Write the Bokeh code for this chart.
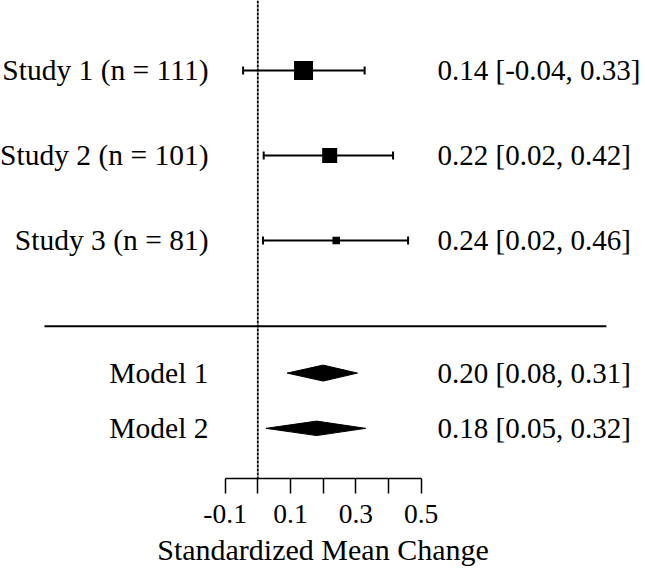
from math import pi
from bokeh.plotting import figure
from bokeh.models import Range1d, LinearAxis, FixedTicker, Span, ColumnDataSource
from bokeh.core.properties import value
from bokeh.embed import file_html
from bokeh.resources import INLINE

# ---------------- data ----------------
study_labels = ["Study 1 (n = 111)", "Study 2 (n = 101)", "Study 3 (n = 81)"]
study_est = [0.14, 0.22, 0.24]
study_lo = [-0.045, 0.018, 0.016]
study_hi = [0.327, 0.414, 0.46]
study_text = ["0.14 [-0.04, 0.33]", "0.22 [0.02, 0.42]", "0.24 [0.02, 0.46]"]

model_labels = ["Model 1", "Model 2"]
model_est = [0.20, 0.18]
model_lo = [0.09, 0.025]
model_hi = [0.305, 0.33]
model_text = ["0.20 [0.08, 0.31]", "0.18 [0.05, 0.32]"]

tick_values = [-0.1, 0.0, 0.1, 0.2, 0.3, 0.4, 0.5]
tick_labels = ["-0.1", "", "0.1", "", "0.3", "", "0.5"]
x_title = "Standardized Mean Change"

# ---------------- layout / style ----------------
W, H = 645, 570
FONT = "Liberation Serif"
study_rows = [0, 1, 2]
model_rows = [3.56, 4.21]
sep_row = 3.008
square_sizes = [19, 15, 7.5]
diamond_half = [0.094, 0.085]
X_RANGE = (-0.7876, 1.1867)
Y_RANGE = (4.80, -0.8235)
LEFT_TEXT_X = -0.151
RIGHT_TEXT_X = 0.55
SEP_X = (-0.653, 1.067)

p = figure(width=W, height=H, output_backend="svg", toolbar_location=None,
           x_axis_type=None, y_axis_type=None,
           x_range=Range1d(*X_RANGE), y_range=Range1d(*Y_RANGE),
           min_border=0, min_border_bottom=92, outline_line_color=None,
           background_fill_color="white", border_fill_color="white")
p.title.visible = False

# zero line
p.add_layout(Span(location=0, dimension="height", line_color="black",
                  line_width=1.8, line_dash="3 1"))

# separator
p.segment(x0=[SEP_X[0]], x1=[SEP_X[1]], y0=[sep_row], y1=[sep_row],
          line_color="black", line_width=2)

# study CIs
src = ColumnDataSource(dict(y=study_rows, est=study_est, lo=study_lo, hi=study_hi,
                            size=square_sizes, lab=study_labels, txt=study_text))
p.segment(x0="lo", x1="hi", y0="y", y1="y", source=src, line_color="black", line_width=2)
p.scatter(x="lo", y="y", marker="dash", angle=pi / 2, size=8, line_width=2,
          line_color="black", source=src)
p.scatter(x="hi", y="y", marker="dash", angle=pi / 2, size=8, line_width=2,
          line_color="black", source=src)
p.scatter(x="est", y="y", marker="square", size="size", fill_color="black",
          line_color="black", line_width=0, source=src)

# diamonds
xs, ys = [], []
for e, lo, hi, r, h in zip(model_est, model_lo, model_hi, model_rows, diamond_half):
    xs.append([lo, e, hi, e])
    ys.append([r, r - h, r, r + h])
p.patches(xs=xs, ys=ys, fill_color="black", line_color="black", line_width=1)

# texts
all_rows = study_rows + model_rows
p.text(x=[LEFT_TEXT_X] * len(all_rows), y=all_rows, text=study_labels + model_labels,
       text_align="right", text_baseline="middle", text_font=value(FONT),
       text_font_size="29.5px", text_color="black")
p.text(x=[RIGHT_TEXT_X] * len(all_rows), y=all_rows, text=study_text + model_text,
       text_align="left", text_baseline="middle", text_font=value(FONT),
       text_font_size="29px", text_color="black")

# axis
ax = LinearAxis(ticker=FixedTicker(ticks=tick_values, minor_ticks=[]),
                bounds=(tick_values[0], tick_values[-1]),
                major_label_overrides={v: l for v, l in zip(tick_values, tick_labels)},
                axis_label=x_title)
ax.axis_line_color = "black"
ax.axis_line_width = 1.5
ax.major_tick_line_color = "black"
ax.major_tick_line_width = 1.5
ax.major_tick_in = 0
ax.major_tick_out = 15
ax.minor_tick_line_color = None
ax.major_label_standoff = 11
ax.major_label_text_font = FONT
ax.major_label_text_font_size = "27.5px"
ax.major_label_text_color = "black"
ax.axis_label_text_font = FONT
ax.axis_label_text_font_size = "30px"
ax.axis_label_text_font_style = "normal"
ax.axis_label_text_color = "black"
ax.axis_label_standoff = 7
p.add_layout(ax, "below")

open("out.html", "w").write(file_html(p, INLINE))
